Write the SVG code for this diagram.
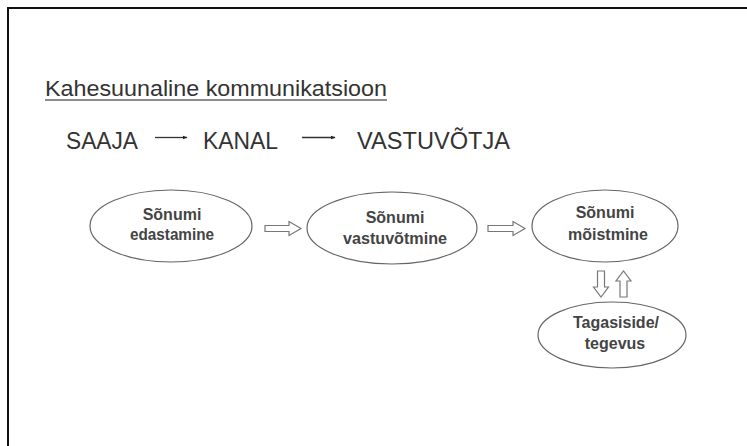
<svg xmlns="http://www.w3.org/2000/svg" width="747" height="446" viewBox="0 0 747 446">
  <style>
    .frame { fill: none; stroke: #111; stroke-width: 2; }
    .title { font-family: "Liberation Sans", Arial, sans-serif; font-size: 22px; fill: #333; }
    .flow { font-family: "Liberation Sans", Arial, sans-serif; font-size: 23px; fill: #333; }
    .node ellipse { fill: #fff; stroke: #666; stroke-width: 1.2; }
    .node text { font-family: "Liberation Sans", Arial, sans-serif; font-size: 16px; font-weight: bold; fill: #444; text-anchor: middle; }
    .thin { stroke: #333; stroke-width: 1.3; fill: none; }
    .block { fill: #fff; stroke: #777; stroke-width: 1.2; stroke-linejoin: miter; }
  </style>
  <defs>
    <marker id="tip" viewBox="0 0 10 10" refX="9" refY="5" markerWidth="5" markerHeight="5" orient="auto" markerUnits="userSpaceOnUse">
      <path d="M0,1 L10,5 L0,9 Z" fill="#222"/>
    </marker>
  </defs>

  <rect width="747" height="446" fill="#fff"/>
  <!-- slide frame: top and left edges -->
  <path class="frame" d="M8,447 V8 H748"/>

  <!-- heading -->
  <g id="heading">
    <text class="title" x="45" y="96" textLength="342" lengthAdjust="spacingAndGlyphs">Kahesuunaline kommunikatsioon</text>
    <line x1="45" y1="100" x2="387" y2="100" stroke="#666" stroke-width="1.3"/>
  </g>

  <!-- sender / channel / receiver row -->
  <g id="saaja"><text class="flow" x="66" y="149" textLength="72" lengthAdjust="spacingAndGlyphs">SAAJA</text></g>
  <g id="kanal"><text class="flow" x="203" y="149" textLength="75" lengthAdjust="spacingAndGlyphs">KANAL</text></g>
  <g id="vastuvotja"><text class="flow" x="357" y="149" textLength="153" lengthAdjust="spacingAndGlyphs">VASTUVÕTJA</text></g>

  <!-- process nodes -->
  <g id="edastamine" class="node">
    <ellipse cx="171" cy="226" rx="81" ry="36"/>
    <text x="172" y="220">Sõnumi</text>
    <text x="172" y="240" textLength="84" lengthAdjust="spacingAndGlyphs">edastamine</text>
  </g>
  <g id="vastuvotmine" class="node">
    <ellipse cx="392" cy="228" rx="85" ry="36"/>
    <text x="395" y="223">Sõnumi</text>
    <text x="395" y="244" textLength="104" lengthAdjust="spacingAndGlyphs">vastuvõtmine</text>
  </g>
  <g id="moistmine" class="node">
    <ellipse cx="605" cy="226" rx="73" ry="36"/>
    <text x="605" y="218">Sõnumi</text>
    <text x="608" y="240">mõistmine</text>
  </g>
  <g id="tagasiside" class="node">
    <ellipse cx="612" cy="335" rx="74" ry="33"/>
    <text x="616" y="328">Tagasiside/</text>
    <text x="615" y="349">tegevus</text>
  </g>

  <!-- connectors -->
  <g id="connectors">
    <line class="thin" x1="155" y1="137.5" x2="187" y2="137.5" marker-end="url(#tip)"/>
    <line class="thin" x1="302" y1="137.5" x2="335" y2="137.5" marker-end="url(#tip)"/>
    <!-- hollow block arrows -->
    <path class="block" d="M265,225.5 H289 V221.5 L301,228.5 L289,235.5 V231.5 H265 Z"/>
    <path class="block" d="M488,225.5 H513 V221.5 L525,228.5 L513,235.5 V231.5 H488 Z"/>
    <path class="block" d="M597.5,271 H604.5 V287 H608.5 L601,297 L593.5,287 H597.5 Z"/>
    <path class="block" d="M620,297 H627 V281 H631 L623.5,271 L616,281 H620 Z"/>
  </g>
</svg>
